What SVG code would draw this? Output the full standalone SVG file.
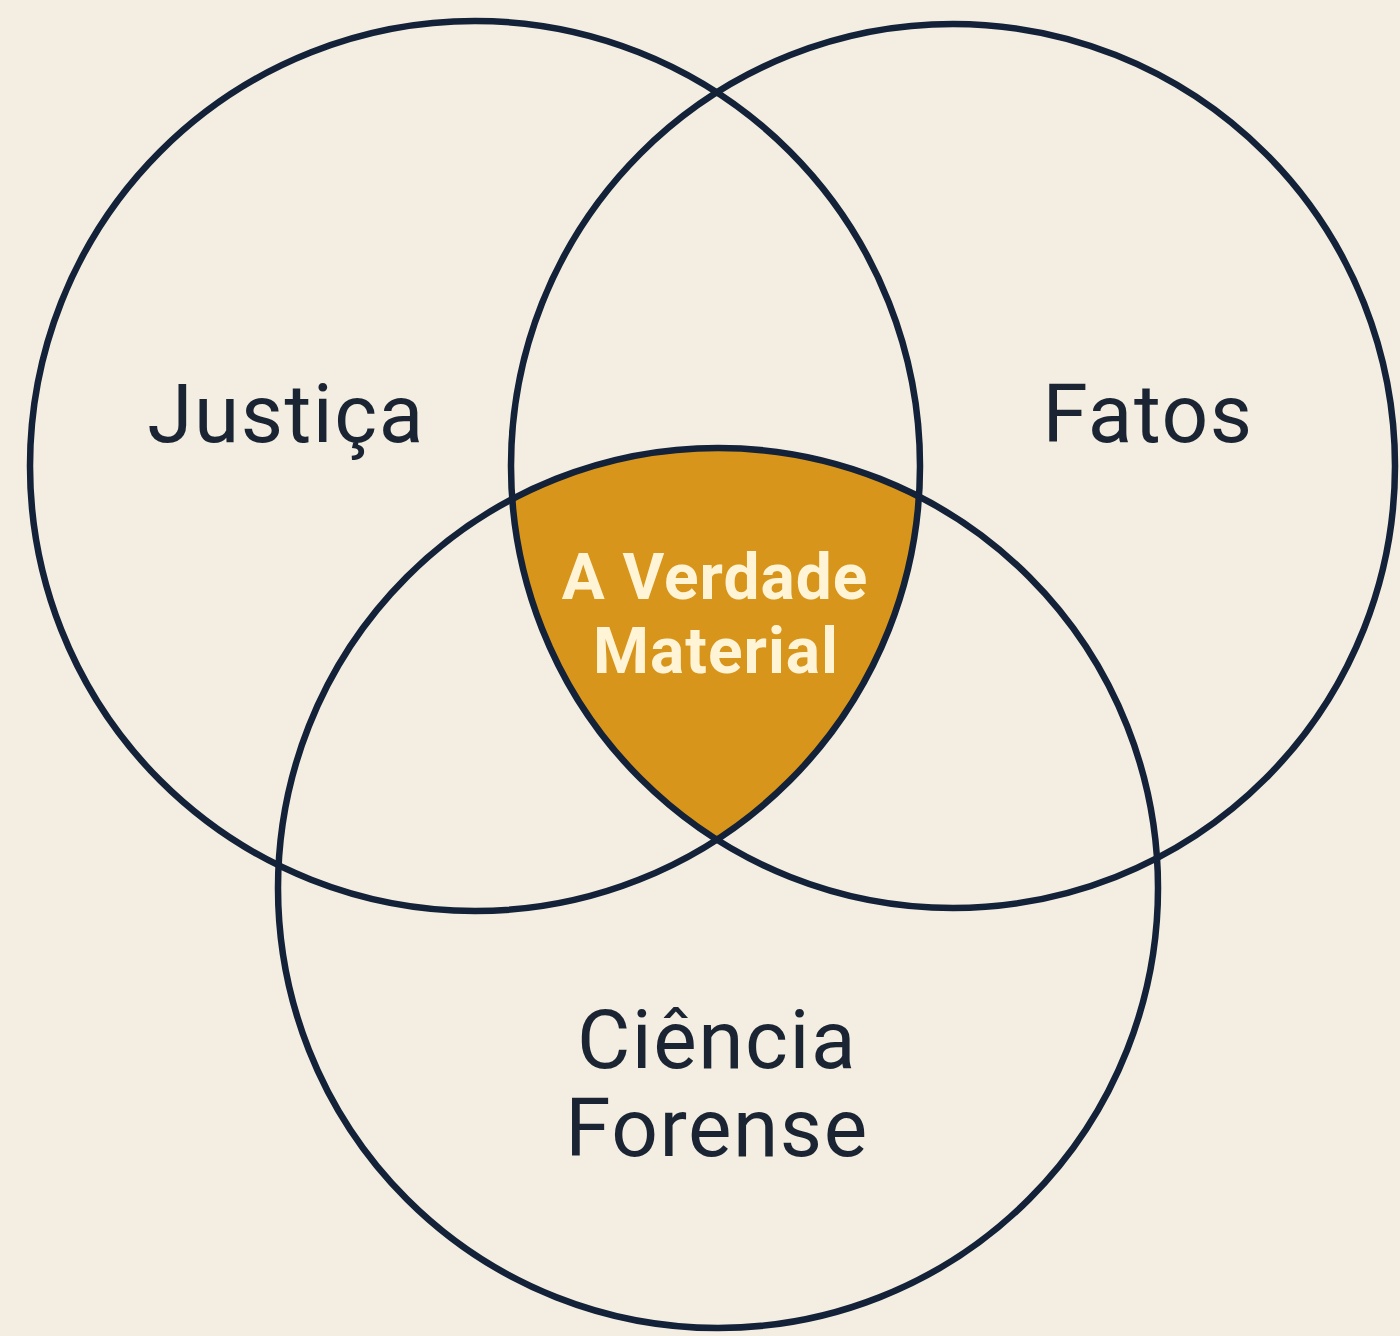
<svg xmlns="http://www.w3.org/2000/svg" width="1400" height="1336" viewBox="0 0 1400 1336">
<style>
.ring{fill:none;stroke:#132238;stroke-width:6.5}
.lbl{font-family:Roboto,"Liberation Sans",sans-serif;font-size:82px;letter-spacing:1.5px;fill:#1a2433;text-anchor:middle}
.core{font-family:Roboto,"Liberation Sans",sans-serif;font-weight:bold;font-size:64px;letter-spacing:1px;fill:#fff5d6;text-anchor:middle}
</style>
<defs>
<clipPath id="cl"><circle cx="475" cy="466" r="445"/></clipPath>
<clipPath id="cr"><circle cx="953" cy="466" r="442"/></clipPath>
</defs>
<rect width="1400" height="1336" fill="#f3eee1"/>
<g id="center-region" clip-path="url(#cl)">
<g clip-path="url(#cr)">
<circle cx="718" cy="888" r="440" fill="#d8951b"/>
</g>
</g>
<g id="justica"><circle class="ring" cx="475" cy="466" r="445"/><text class="lbl" x="286" y="442">Justiça</text></g>
<g id="fatos"><circle class="ring" cx="953" cy="466" r="442"/><text class="lbl" x="1148" y="442">Fatos</text></g>
<g id="ciencia"><circle class="ring" cx="718" cy="888" r="440"/><text class="lbl" x="717" y="1068">Ciência</text><text class="lbl" x="717" y="1156">Forense</text></g>
<g id="verdade"><text class="core" x="715" y="599">A Verdade</text><text class="core" x="716" y="673">Material</text></g>
</svg>
